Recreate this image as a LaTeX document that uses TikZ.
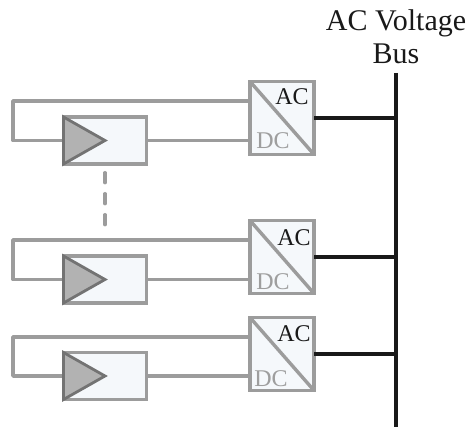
\documentclass[tikz,border=0pt]{standalone}
\usepackage{fontspec}
\setmainfont{Liberation Serif}
\usetikzlibrary{shadows}
\definecolor{wiregray}{HTML}{9C9C9C}
\definecolor{panelfill}{HTML}{F5F8FB}
\tikzset{
	converter/.style={draw=wiregray,line width=3.6pt,fill=panelfill,outer sep=0pt,minimum width=64pt,minimum height=73pt,drop shadow={shadow xshift=1.5pt,shadow yshift=-2pt,fill=blue!25,opacity=.25}},
	panel/.style={draw=wiregray,line width=3.6pt,fill=panelfill,outer sep=0pt,minimum width=83pt,minimum height=47pt,drop shadow={shadow xshift=1.5pt,shadow yshift=-2pt,fill=blue!25,opacity=.25}},
	wire/.style={draw=wiregray,line width=3.4pt,line join=round},
	busline/.style={draw=black!90,line width=3.6pt},
	cell/.style={draw=black!55,line width=2.8pt,fill=black!30,line join=miter},
	aclabel/.style={inner sep=0pt,font=\fontsize{24}{24}\selectfont,text=black!90},
	dclabel/.style={inner sep=0pt,font=\fontsize{24}{24}\selectfont,text=black!38}
}
\begin{document}
\begin{tikzpicture}[x=1pt,y=-1pt]
	\useasboundingbox (0,0) rectangle (474,427);

	\node[inner sep=0pt,align=center,font=\fontsize{30}{33}\selectfont,text=black!90] (title) at (396,37) {AC Voltage\\Bus};

	\coordinate (bustop) at (396,73);
	\coordinate (busbot) at (396,427);
	\coordinate (cornerat) at (13,101);
	\coordinate (cornerab) at (13,140.5);
	\coordinate (cornerbt) at (13,240);
	\coordinate (cornerbb) at (13,279.5);
	\coordinate (cornerct) at (13,337);
	\coordinate (cornercb) at (13,376);
	\coordinate (dashtop) at (105,172.7);
	\coordinate (dashbot) at (105,226);

	\node[panel] (panela) at (105,140.5) {};
	\node[panel] (panelb) at (105,279.5) {};
	\node[panel] (panelc) at (105,376) {};

	\node[converter] (conva) at (282,118) {};
	\node[converter] (convb) at (282,257) {};
	\node[converter] (convc) at (282,354) {};

	\draw[wire] (conva.north west)--(conva.south east);
	\draw[wire] (convb.north west)--(convb.south east);
	\draw[wire] (convc.north west)--(convc.south east);

	\draw[wire] (panela.west)--(cornerab)--(cornerat)--(cornerat-|conva.west);
	\draw[wire] (panelb.west)--(cornerbb)--(cornerbt)--(cornerbt-|convb.west);
	\draw[wire] (panelc.west)--(cornercb)--(cornerct)--(cornerct-|convc.west);

	\draw[wire] (panela.east)--(panela.east-|conva.west);
	\draw[wire] (panelb.east)--(panelb.east-|convb.west);
	\draw[wire] (panelc.east)--(panelc.east-|convc.west);

	\draw[cell] (panela.north west)--(panela.center)--(panela.south west)--cycle;
	\draw[cell] (panelb.north west)--(panelb.center)--(panelb.south west)--cycle;
	\draw[cell] (panelc.north west)--(panelc.center)--(panelc.south west)--cycle;

	\draw[wire,line cap=round,dash pattern=on 10pt off 11pt] (dashtop)--(dashbot);

	\draw[busline] (bustop)--(busbot);
	\draw[busline] (conva.east)--(conva.east-|bustop);
	\draw[busline] (convb.east)--(convb.east-|bustop);
	\draw[busline] (convc.east)--(convc.east-|bustop);

	\node[aclabel] (aca) at (292,97) {AC};
	\node[aclabel] (acb) at (294,238) {AC};
	\node[aclabel] (acc) at (294,334) {AC};
	\node[dclabel] (dca) at (273,141) {DC};
	\node[dclabel] (dcb) at (273,282) {DC};
	\node[dclabel] (dcc) at (271,379) {DC};
\end{tikzpicture}
\end{document}
